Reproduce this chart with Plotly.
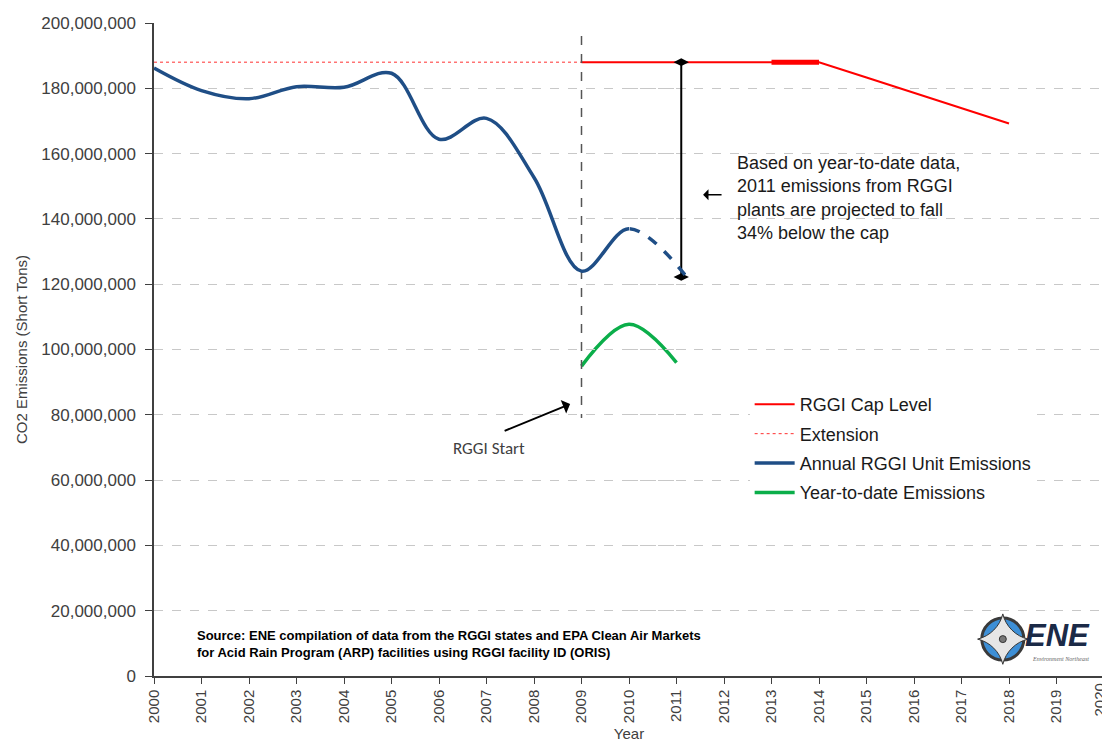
import plotly.graph_objects as go

# ---------------- data ----------------
annual_years = [2000, 2001, 2002, 2003, 2004, 2005, 2006, 2007, 2008, 2009, 2010, 2011]
annual_emis = [186.2e6, 179.3e6, 176.8e6, 180.5e6, 180.3e6, 184.6e6, 164.4e6, 170.8e6,
               152.7e6, 124.0e6, 137.0e6, 122.5e6]
last_actual_year = 2010   # solid up to here, dashed projection afterwards
projection_year = 2011

ytd_years = [2009, 2010, 2011]
ytd_emis = [94.9e6, 107.7e6, 96.0e6]

cap_years = [2009, 2010, 2011, 2012, 2013, 2014, 2015, 2016, 2017, 2018]
cap_level = [188e6, 188e6, 188e6, 188e6, 188e6, 188e6, 183.3e6, 178.6e6, 173.9e6, 169.2e6]
cap_ext_years = [2013, 2014]
cap_ext_level = [188e6, 188e6]

extension_years = [2000, 2009]
extension_level = [188e6, 188e6]

proj_x = 2011.1
proj_top = 188e6
proj_bottom = 122.2e6

rggi_start_year = 2009
rggi_line_top = 196e6
rggi_line_bottom = 79e6

x_min, x_max = 2000, 2020
x_ticks = list(range(x_min, x_max + 1))
x_tick_labels = [str(t) for t in x_ticks]
y_ticks = list(range(0, 200000001, 20000000))
y_tick_labels = ["0"] + [f"{v:,}" for v in y_ticks[1:]]

BLUE = "#1F4E86"
RED = "#FF0000"
GREEN = "#0BAE4A"
FONT = "Liberation Sans, Arial, sans-serif"

def frac(year):
    return (year - x_min) / (x_max - x_min)

fig = go.Figure()

fig.add_trace(go.Scatter(x=cap_years, y=cap_level, mode="lines", name="RGGI Cap Level",
                         line=dict(color=RED, width=2), legendgroup="a"))
fig.add_trace(go.Scatter(x=cap_ext_years, y=cap_ext_level, mode="lines",
                         line=dict(color=RED, width=5), showlegend=False, legendgroup="a"))
fig.add_trace(go.Scatter(x=extension_years, y=extension_level, mode="lines", name="Extension",
                         line=dict(color="#FF3030", width=1, dash="dot"), legendgroup="b"))
# actual emissions: full spline, shown only up to last actual year (clipped subplot)
fig.add_trace(go.Scatter(x=annual_years, y=annual_emis, mode="lines",
                         name="Annual RGGI Unit Emissions", xaxis="x3", yaxis="y",
                         line=dict(color=BLUE, width=3.5, shape="spline", smoothing=1),
                         legendgroup="c"))
# projected part: same spline, dashed, shown only between last actual year and projection
fig.add_trace(go.Scatter(x=annual_years, y=annual_emis, mode="lines", xaxis="x2", yaxis="y",
                         line=dict(color=BLUE, width=3.5, dash="dash", shape="spline", smoothing=1),
                         showlegend=False, hoverinfo="skip", legendgroup="c"))
fig.add_trace(go.Scatter(x=ytd_years, y=ytd_emis, mode="lines", name="Year-to-date Emissions",
                         line=dict(color=GREEN, width=3.5, shape="spline", smoothing=1),
                         legendgroup="d"))

# projection gap marker
fig.add_trace(go.Scatter(x=[proj_x, proj_x], y=[proj_top, proj_bottom], mode="lines+markers",
                         line=dict(color="black", width=2),
                         marker=dict(symbol="diamond-wide", size=11, color="black"),
                         showlegend=False, hoverinfo="skip"))

# RGGI start line
fig.add_trace(go.Scatter(x=[rggi_start_year, rggi_start_year], y=[rggi_line_top, rggi_line_bottom],
                         mode="lines", line=dict(color="#555555", width=1.5, dash="dash"),
                         showlegend=False, hoverinfo="skip"))

# logo (compass + text)
fig.add_shape(type="circle", xref="x", yref="y", xsizemode="pixel", ysizemode="pixel",
              xanchor=2017.87, yanchor=11.3e6, x0=-21, x1=21, y0=-21, y1=21, layer="below",
              fillcolor="#3D8FD6", line=dict(color="#3a3a3a", width=3))
fig.add_trace(go.Scatter(x=[2017.87], y=[11.3e6], mode="markers",
                         marker=dict(symbol="star-diamond", size=36, color="#E6E6E6",
                                     line=dict(color="#333333", width=1)),
                         showlegend=False, hoverinfo="skip"))
fig.add_trace(go.Scatter(x=[2017.87], y=[11.3e6], mode="markers",
                         marker=dict(symbol="circle", size=7, color="#777777",
                                     line=dict(color="#333333", width=1)),
                         showlegend=False, hoverinfo="skip"))
fig.add_annotation(x=2018.3, y=12.5e6, xref="x", yref="y", text="<b><i>ENE</i></b>",
                   showarrow=False, xanchor="left", yanchor="middle",
                   font=dict(family=FONT, size=31, color="#1B2A47"))
fig.add_annotation(x=2018.45, y=5.2e6, xref="x", yref="y", text="<i>Environment Northeast</i>",
                   showarrow=False, xanchor="left", yanchor="middle",
                   font=dict(family="Liberation Serif, serif", size=6, color="#666666"))

# annotations
fig.add_annotation(x=2008.76, y=83.3e6, ax=2007.35, ay=74.9e6, xref="x", yref="y",
                   axref="x", ayref="y", text="", showarrow=True, arrowhead=1,
                   arrowsize=1.2, arrowwidth=2, arrowcolor="black")
fig.add_annotation(x=2007.05, y=69.6e6, xref="x", yref="y", text="RGGI Start", showarrow=False,
                   font=dict(family="Carlito, Liberation Sans, sans-serif", size=17, color="#404040"))
fig.add_annotation(x=2011.56, y=147.4e6, ax=2011.98, ay=147.4e6, xref="x", yref="y",
                   axref="x", ayref="y", text="", showarrow=True, arrowhead=1,
                   arrowsize=1.2, arrowwidth=1.5, arrowcolor="black")
fig.add_annotation(x=2012.23, y=146.5e6, xref="x", yref="y", xanchor="left", yanchor="middle",
                   align="left", showarrow=False,
                   text="Based on year-to-date data,<br>2011 emissions from RGGI<br>"
                        "plants are projected to fall<br>34% below the cap",
                   font=dict(family=FONT, size=18, color="#1a1a1a"))
fig.add_annotation(x=0.043, y=0.076, xref="paper", yref="paper", xanchor="left", yanchor="top",
                   align="left", showarrow=False,
                   text="<b>Source: ENE compilation of data from the RGGI states and EPA Clean Air Markets<br>"
                        "for Acid Rain Program (ARP) facilities using RGGI facility ID (ORIS)</b>",
                   font=dict(family="Liberation Sans Narrow, Arial Narrow, Liberation Sans, sans-serif",
                             size=13, color="black"))

# last x tick label, drawn as text nudged inward so it stays inside the page edge
fig.add_annotation(x=x_ticks[-1], y=0, xref="x", yref="paper", text=x_tick_labels[-1],
                   textangle=-90, showarrow=False, xanchor="center", yanchor="top",
                   xshift=-5, yshift=-7, borderpad=0,
                   font=dict(family=FONT, size=15, color="#404040"))

# right border
fig.add_shape(type="line", xref="paper", yref="paper", x0=1, x1=1, y0=0, y1=1,
              line=dict(color="#A6A6A6", width=1.5))

fig.update_layout(
    width=1102, height=738,
    margin=dict(l=146, r=6, t=14, b=60),
    paper_bgcolor="white", plot_bgcolor="rgba(0,0,0,0)",
    font=dict(family=FONT, color="#404040"),
    legend=dict(x=0.627, y=0.444, xanchor="left", yanchor="top", bgcolor="white",
                font=dict(family=FONT, size=18, color="#1a1a1a"),
                traceorder="grouped", tracegroupgap=3, itemwidth=40),
    xaxis=dict(range=[x_min, x_max], tickmode="array", tickvals=x_ticks,
               ticktext=x_tick_labels[:-1] + [""], tickangle=-90,
               tickfont=dict(size=15, color="#404040"),
               showgrid=False, showline=True, linecolor="#404040", linewidth=1.5,
               ticks="outside", ticklen=6, tickcolor="#404040",
               title=dict(text="Year", font=dict(size=15, color="#404040"), standoff=6),
               zeroline=False, domain=[0, 1]),
    xaxis2=dict(range=[last_actual_year, projection_year], domain=[frac(last_actual_year), frac(projection_year) + 0.01],
                anchor="y", visible=False, showgrid=False, zeroline=False),
    xaxis3=dict(range=[x_min, last_actual_year], domain=[0, frac(last_actual_year)],
                anchor="y", visible=False, showgrid=False, zeroline=False),
    yaxis=dict(range=[0, 200e6], tickmode="array", tickvals=y_ticks, ticktext=y_tick_labels,
               tickfont=dict(size=17, color="#404040"),
               showgrid=True, gridcolor="#C8C8C8", griddash="dash", gridwidth=1,
               showline=True, linecolor="#404040", linewidth=1.5,
               ticks="outside", ticklen=7, tickcolor="#404040", ticklabelstandoff=6,
               title=dict(text="CO2 Emissions (Short Tons)", font=dict(size=15, color="#404040"),
                          standoff=10),
               zeroline=False),
)

fig.write_html("out.html")
